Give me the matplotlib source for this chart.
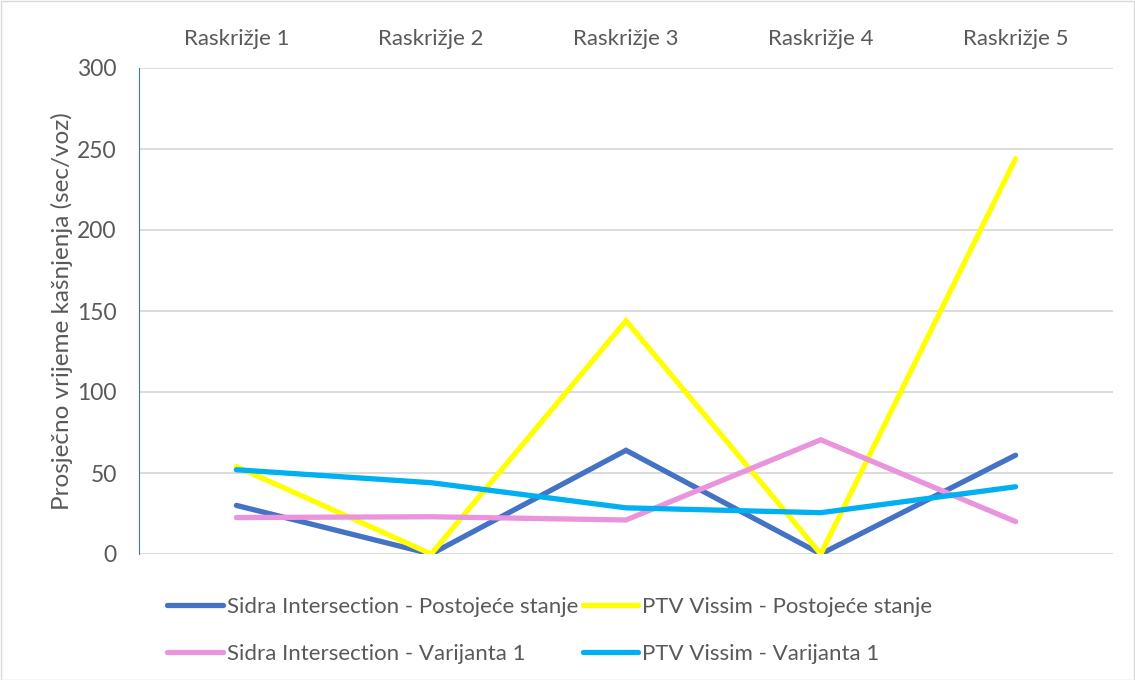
import matplotlib
matplotlib.use("Agg")
import matplotlib.pyplot as plt
from matplotlib.patches import Rectangle

categories = ["Raskrižje 1", "Raskrižje 2", "Raskrižje 3", "Raskrižje 4", "Raskrižje 5"]
sidra_postojece = [30, 0, 64, 0, 61]
vissim_postojece = [54, 0, 144, 0, 244]
sidra_varijanta1 = [22.5, 23, 21, 70.5, 20]
vissim_varijanta1 = [52, 44, 28.5, 25.5, 41.5]

series_names = [
    "Sidra Intersection - Postojeće stanje",
    "PTV Vissim - Postojeće stanje",
    "Sidra Intersection - Varijanta 1",
    "PTV Vissim - Varijanta 1",
]
series_colors = ["#4472C4", "#FFFF00", "#E994DC", "#00B0F0"]
yticks = [0, 50, 100, 150, 200, 250, 300]

plt.rcParams["font.family"] = ["Lato", "DejaVu Sans"]
text_color = "#595959"

fig = plt.figure(figsize=(11.35, 6.8), dpi=100)
ax = fig.add_axes([139 / 1135, 1 - 554 / 680, (1113 - 139) / 1135, (554 - 68) / 680])

x = list(range(len(categories)))
handles = []
for vals, name, col in zip(
    [sidra_postojece, vissim_postojece, sidra_varijanta1, vissim_varijanta1],
    series_names, series_colors):
    h, = ax.plot(x, vals, color=col, lw=3.8, solid_capstyle="round",
                 solid_joinstyle="miter", label=name, zorder=3)
    handles.append(h)

ax.set_xlim(-0.5, len(categories) - 0.5)
ax.set_ylim(0, 300)
ax.set_yticks(yticks)
ax.set_yticklabels([str(t) for t in yticks], fontsize=16.5, color=text_color)
ax.yaxis.grid(True, color="#D9D9D9", lw=1.3)
ax.set_axisbelow(True)
ax.tick_params(axis="y", length=0, pad=16)

ax.xaxis.tick_top()
ax.set_xticks(x)
ax.set_xticklabels(categories, fontsize=16, color=text_color)
ax.tick_params(axis="x", length=0, pad=14)

for s in ["top", "right", "bottom"]:
    ax.spines[s].set_visible(False)
ax.spines["left"].set_color("#4472C4")
ax.spines["left"].set_linewidth(0.8)

ax.set_ylabel("Prosječno vrijeme kašnjenja (sec/voz)", fontsize=17.5,
              color=text_color, labelpad=3)

# legend entries ordered so that rows read: Postojeće stanje, then Varijanta 1
leg_order = [0, 2, 1, 3]
leg = fig.legend(handles=[handles[i] for i in leg_order], loc="upper left", ncol=2,
                 bbox_to_anchor=(167 / 1135, 1 - 597 / 680), frameon=False,
                 borderaxespad=0, borderpad=0,
                 fontsize=16, handlelength=2.5, handletextpad=0.18,
                 columnspacing=0.22, labelspacing=1.2)
for t in leg.get_texts():
    t.set_color(text_color)

fig.patches.append(Rectangle((0.5 / 1135, 0.5 / 680), 1 - 1.5 / 1135, 1 - 1.5 / 680,
                             transform=fig.transFigure, fill=False,
                             edgecolor="#D9D9D9", lw=1))

fig.savefig("out.png", dpi=100, facecolor="white")
